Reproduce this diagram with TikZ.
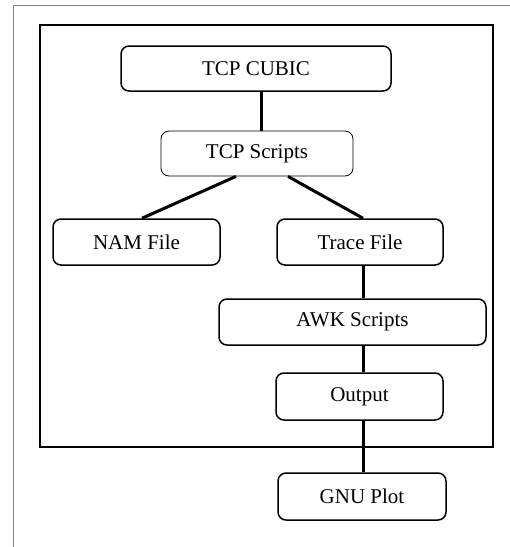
\documentclass[tikz,border=0pt]{standalone}
\usepackage{fontspec}
\setmainfont{Liberation Serif}
\begin{document}
\begin{tikzpicture}[x=1pt,y=-1pt,
  box/.style={draw,rounded corners=8pt,line width=1.5pt,inner sep=0pt,align=center,
    font=\fontsize{21}{25}\selectfont},
  thinbox/.style={box,line width=0.8pt},
  conn/.style={line width=3pt},
  frame/.style={line width=1.5pt},
  page/.style={draw=gray,line width=1pt}]
\useasboundingbox (0,0) rectangle (510,547);
\draw[page] (13.5,547) -- (13.5,5) -- (510,5);
\draw[frame] (40,25) rectangle (493,447);
\node[box,minimum width=270pt,minimum height=45pt] (cubic) at (256,68.5) {TCP CUBIC};
\node[thinbox,minimum width=192pt,minimum height=45pt] (scripts) at (257,153.5) {TCP Scripts};
\node[box,minimum width=167pt,minimum height=46pt] (nam) at (136.5,242) {NAM File};
\node[box,minimum width=166pt,minimum height=46pt] (trace) at (360,242) {Trace File};
\node[box,minimum width=267pt,minimum height=46pt] (awk) at (352.5,322) {AWK Scripts};
\node[box,minimum width=167pt,minimum height=47pt] (out) at (359.5,396.5) {Output};
\node[box,minimum width=168pt,minimum height=47pt] (gnu) at (362,496.5) {GNU Plot};
\draw[conn] ([xshift=5pt]cubic.south) -- ([xshift=5pt]cubic.south |- scripts.north);
\draw[conn] ([xshift=-21pt]scripts.south) -- ([xshift=5.5pt]nam.north);
\draw[conn] ([xshift=31pt]scripts.south) -- ([xshift=3pt]trace.north);
\draw[conn] ([xshift=3.5pt]trace.south) -- ([xshift=3.5pt]trace.south |- awk.north);
\draw[conn] ([xshift=3.5pt]trace.south |- awk.south) -- ([xshift=3.5pt]trace.south |- out.north);
\draw[conn] ([xshift=3.5pt]trace.south |- out.south) -- ([xshift=3.5pt]trace.south |- gnu.north);
\end{tikzpicture}
\end{document}
